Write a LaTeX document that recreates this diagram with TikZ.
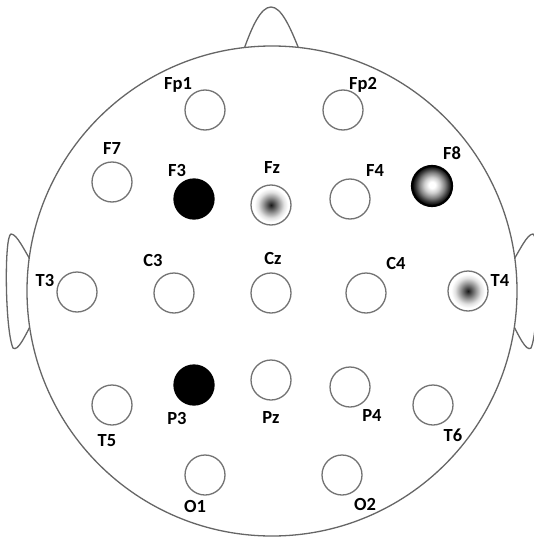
\documentclass[tikz,border=0pt]{standalone}
\usepackage{fontspec}
\setmainfont{Carlito}
\usepackage{tikz}

% dark spot in the middle, fading out
\pgfdeclareradialshading{spot}{\pgfpoint{0bp}{0bp}}{color(0bp)=(black!90); color(4bp)=(black!70); color(10bp)=(black!40); color(16bp)=(black!12); color(21bp)=(white); color(50bp)=(white)}
% bright middle, dark rim
\pgfdeclareradialshading{glowball}{\pgfpoint{0bp}{1.5bp}}{color(0bp)=(white); color(4bp)=(white); color(10bp)=(black!20); color(16bp)=(black!50); color(21bp)=(black!80); color(25bp)=(black); color(50bp)=(black)}

\tikzset{
	outline/.style = {draw=black!60, line width=1.3pt, fill=white},
	electrode/.style = {circle, minimum size=40pt, inner sep=0pt, draw=black!55, line width=1.3pt, fill=white},
	active/.style = {electrode, draw=black, fill=black},
	spotted/.style = {electrode, shading=spot},
	bright/.style = {electrode, draw=black, line width=2.2pt, shading=glowball},
	tag/.style = {inner sep=0pt, text height=12pt, text depth=0pt, font=\bfseries\fontsize{18.5}{18.5}\selectfont}
}

\begin{document}
\begin{tikzpicture}[x=1pt, y=-1pt]
	\useasboundingbox (0,0) rectangle (534,538);

	% nose and ears, partly hidden by the head
	\draw[outline] (243,52) .. controls (252,26) and (261,7) .. (271,7) .. controls (281,7) and (290,26) .. (300,52);
	\draw[outline] (34,266) .. controls (24,250) and (17,234) .. (11,234) .. controls (4,236) and (5,330) .. (13,348) .. controls (18,352) and (25,336) .. (34,319) -- cycle;
	\draw[outline] (510,266) .. controls (520,250) and (527,234) .. (533,234) .. controls (540,236) and (539,330) .. (531,348) .. controls (526,352) and (519,336) .. (510,319) -- cycle;

	% head
	\node[outline, circle, minimum size=490pt, inner sep=0pt] (head) at (272,291) {};

	% electrodes
	\node[electrode] (Fp1) at (205,110) {};
	\node[electrode] (Fp2) at (343,110) {};
	\node[electrode] (F7) at (112,182) {};
	\node[active] (F3) at (194,199) {};
	\node[spotted] (Fz) at (271,205) {};
	\node[electrode] (F4) at (350,199) {};
	\node[bright] (F8) at (432,186) {};
	\node[electrode] (T3) at (77,292) {};
	\node[electrode] (C3) at (174,293) {};
	\node[electrode] (Cz) at (271,293) {};
	\node[electrode] (C4) at (366,293) {};
	\node[spotted] (T4) at (468,291) {};
	\node[electrode] (T5) at (112,405) {};
	\node[active] (P3) at (194,385) {};
	\node[electrode] (Pz) at (271,380) {};
	\node[electrode] (P4) at (350,387) {};
	\node[electrode] (T6) at (433,405) {};
	\node[electrode] (O1) at (205,475) {};
	\node[electrode] (O2) at (342,475) {};

	% names
	\node[tag] (lFp1) at (178,83) {Fp1};
	\node[tag] (lFp2) at (363,83) {Fp2};
	\node[tag] (lF7) at (112,148) {F7};
	\node[tag] (lF3) at (177,170) {F3};
	\node[tag] (lFz) at (272,167) {Fz};
	\node[tag] (lF4) at (375,170) {F4};
	\node[tag] (lF8) at (452,153) {F8};
	\node[tag] (lT3) at (45,280) {T3};
	\node[tag] (lC3) at (153,260) {C3};
	\node[tag] (lCz) at (273,258) {Cz};
	\node[tag] (lC4) at (396,263) {C4};
	\node[tag] (lT4) at (500,280) {T4};
	\node[tag] (lT5) at (107,440) {T5};
	\node[tag] (lP3) at (177,418) {P3};
	\node[tag] (lPz) at (271,417) {Pz};
	\node[tag] (lP4) at (372,415) {P4};
	\node[tag] (lT6) at (453,435) {T6};
	\node[tag] (lO1) at (195,506) {O1};
	\node[tag] (lO2) at (365,504) {O2};
\end{tikzpicture}
\end{document}
